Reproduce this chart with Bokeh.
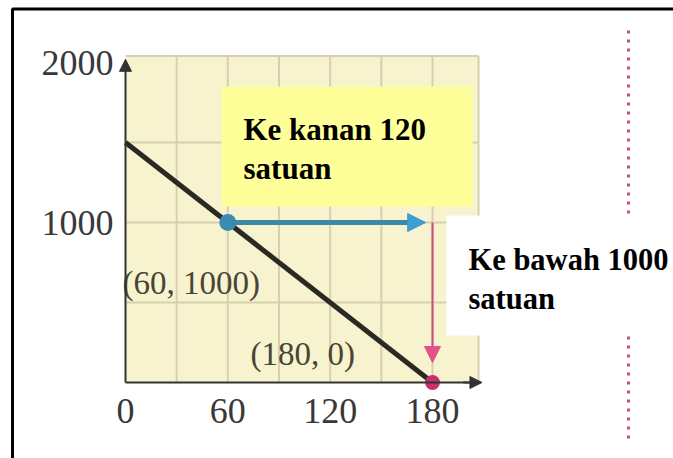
from bokeh.plotting import figure
from bokeh.models import Range1d, LinearAxis, FixedTicker, Arrow, NormalHead
from bokeh.core.properties import value
from bokeh.embed import file_html
from bokeh.resources import INLINE

# ---------------- data ----------------
x_ticks = [0, 60, 120, 180]
y_ticks = [1000, 2000]
line_x = [0, 180]
line_y = [1500, 0]
point_x = [60, 180]
point_y = [1000, 0]
move_right = 120
move_down = 1000
grid_x = [30, 60, 90, 120, 150, 180, 207]
grid_y = [500, 1000, 1500, 2040]
x_max = 208
y_max = 2000
point_labels = ["(60, 1000)", "(180, 0)"]
note_right = ["Ke kanan 120", "satuan"]
note_down = ["Ke bawah 1000", "satuan"]

# ---------------- geometry helpers (picture pixels -> data) ----------------
W, H = 673, 458
ORIGIN = 0
X0_PX, XS = 125.0, 307.0 / 180.0
Y0_PX, YS = 382.0, 0.16


def dx(px):
    return (px - X0_PX) / XS


def dy(py):
    return (Y0_PX - py) / YS


p = figure(width=W, height=H,
           x_range=Range1d(dx(ORIGIN), dx(ORIGIN + W)),
           y_range=Range1d(dy(ORIGIN + H), dy(ORIGIN)),
           output_backend="svg", toolbar_location=None,
           x_axis_type=None, y_axis_type=None, min_border=0)
p.outline_line_color = None
p.background_fill_color = "white"
p.border_fill_color = "white"

# plot paper (yellow squared area)
p.quad(left=[0], right=[grid_x[-1]], bottom=[0], top=[grid_y[-1]],
       fill_color="#f7f3cf", line_color=None)
p.segment(x0=grid_x, y0=[0] * len(grid_x), x1=grid_x, y1=[grid_y[-1]] * len(grid_x),
          line_color="#d6d0b0", line_width=2)
p.segment(x0=[0] * len(grid_y), y0=grid_y, x1=[grid_x[-1]] * len(grid_y), y1=grid_y,
          line_color="#d6d0b0", line_width=2)

# axes
label_font = "Liberation Serif"
xaxis = LinearAxis(fixed_location=0, ticker=FixedTicker(ticks=x_ticks), bounds=(0, x_max))
yaxis = LinearAxis(fixed_location=0, ticker=FixedTicker(ticks=y_ticks), bounds=(0, y_max))
for ax in (xaxis, yaxis):
    ax.axis_line_color = "#333333"
    ax.axis_line_width = 2
    ax.major_tick_line_color = None
    ax.minor_tick_line_color = None
    ax.major_tick_out = 0
    ax.major_tick_in = 0
    ax.minor_tick_out = 0
    ax.major_label_text_font = label_font
    ax.major_label_text_font_size = "36px"
    ax.major_label_text_color = "#383838"
xaxis.major_label_standoff = 16
yaxis.major_label_standoff = 12
p.add_layout(xaxis, "below")
p.add_layout(yaxis, "left")

p.add_layout(Arrow(end=NormalHead(size=12, fill_color="#333333", line_color="#333333"),
                   x_start=x_max - 10, y_start=0, x_end=x_max + 1, y_end=0,
                   line_color="#333333", line_width=2))
p.add_layout(Arrow(end=NormalHead(size=12, fill_color="#333333", line_color="#333333"),
                   x_start=0, y_start=y_max - 60, x_end=0, y_end=y_max + 20,
                   line_color="#333333", line_width=2))

# main line
p.line(x=line_x, y=line_y, line_color="#2a2a24", line_width=5)

# translation arrows
p.add_layout(Arrow(end=NormalHead(size=18, fill_color="#3aa0d6", line_color="#3aa0d6"),
                   x_start=point_x[0], y_start=point_y[0],
                   x_end=point_x[0] + move_right - 4, y_end=point_y[0],
                   line_color="#3c88a6", line_width=5))
p.add_layout(Arrow(end=NormalHead(size=16, fill_color="#e4508a", line_color="#e4508a"),
                   x_start=point_x[0] + move_right, y_start=point_y[0],
                   x_end=point_x[0] + move_right, y_end=point_y[0] - move_down + 125,
                   line_color="#d04a7c", line_width=2))

# points
p.scatter(x=[point_x[0]], y=[point_y[0]], size=17, fill_color="#3a8ab8", line_color=None)
p.scatter(x=[point_x[1]], y=[point_y[1]], size=15, fill_color="#c8306c", line_color=None)

# coordinate labels
p.text(x=[dx(122), dx(250)], y=[dy(282), dy(353)], text=point_labels,
       text_font=value(label_font), text_font_size="33px", text_color="#4a4436",
       text_align="left", text_baseline="middle")

# pink dotted margin line
p.line(x=[dx(628), dx(628)], y=[dy(30), dy(440)], line_color="#c8507c",
       line_width=3, line_dash="3 6")

# yellow note box
p.quad(left=[dx(221)], right=[dx(472)], top=[dy(86)], bottom=[dy(206)],
       fill_color="#ffff99", line_color=None)
p.text(x=[dx(243), dx(243)], y=[dy(129), dy(168)], text=note_right,
       text_font=value(label_font), text_font_size="31px", text_font_style="bold",
       text_color="black", text_align="left", text_baseline="alphabetic")

# white note box
p.quad(left=[dx(446)], right=[dx(ORIGIN + W + 20)], top=[dy(215)], bottom=[dy(335)],
       fill_color="white", line_color=None)
p.text(x=[dx(468), dx(468)], y=[dy(259), dy(298)], text=note_down,
       text_font=value(label_font), text_font_size="30.5px", text_font_style="bold",
       text_color="black", text_align="left", text_baseline="alphabetic")

# outer frame (left and top edges visible)
p.line(x=[dx(12), dx(12), dx(ORIGIN + W + 20)], y=[dy(ORIGIN + H + 20), dy(8.5), dy(8.5)],
       line_color="black", line_width=3)

open("out.html", "w").write(file_html(p, INLINE))
